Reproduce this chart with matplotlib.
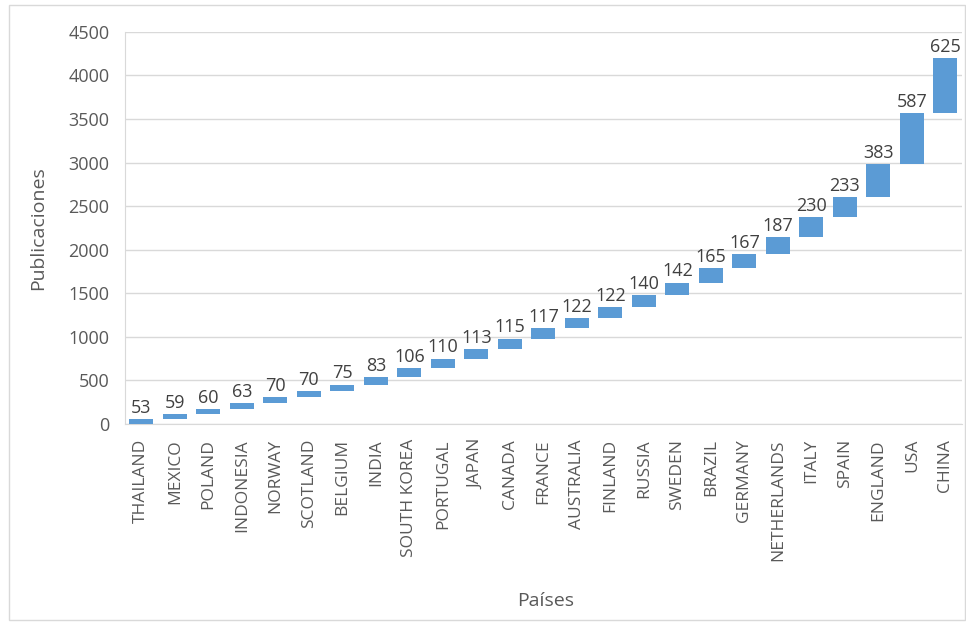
import matplotlib
matplotlib.use("Agg")
import matplotlib.pyplot as plt
import numpy as np

countries = ["THAILAND", "MEXICO", "POLAND", "INDONESIA", "NORWAY", "SCOTLAND",
             "BELGIUM", "INDIA", "SOUTH KOREA", "PORTUGAL", "JAPAN", "CANADA",
             "FRANCE", "AUSTRALIA", "FINLAND", "RUSSIA", "SWEDEN", "BRAZIL",
             "GERMANY", "NETHERLANDS", "ITALY", "SPAIN", "ENGLAND", "USA", "CHINA"]
publications = [53, 59, 60, 63, 70, 70, 75, 83, 106, 110, 113, 115, 117, 122,
                122, 140, 142, 165, 167, 187, 230, 233, 383, 587, 625]
y_ticks = [0, 500, 1000, 1500, 2000, 2500, 3000, 3500, 4000, 4500]

plt.rcParams['font.family'] = ['Open Sans', 'DejaVu Sans']

bar_color = "#5B9BD5"
text_color = "#595959"

fig = plt.figure(figsize=(9.66, 6.25), dpi=100)
ax = fig.add_axes([0.129, 0.322, 0.867, 0.627])

# waterfall: each bar starts where the cumulative total of the previous ones ends
vals = np.array(publications)
bottoms = np.concatenate([[0], np.cumsum(vals)[:-1]])
x = np.arange(len(countries))
ax.bar(x, vals, bottom=bottoms, width=0.72, color=bar_color, zorder=3)

for xi, b, v in zip(x, bottoms, vals):
    ax.text(xi, b + v + 25, str(v), ha="center", va="bottom",
            fontsize=13, color="#404040", zorder=4)

ax.set_xlim(-0.5, len(countries) - 0.5)
ax.set_ylim(0, 4500)
ax.set_yticks(y_ticks)
ax.set_xticks(x)
ax.set_xticklabels(countries, rotation=90, fontsize=12.5, color=text_color)
ax.tick_params(axis="y", labelsize=13, colors=text_color, length=0, pad=11)
ax.tick_params(axis="x", length=0, pad=11)

ax.grid(axis="y", color="#D9D9D9", linewidth=1, zorder=0)
for side in ["top", "right"]:
    ax.spines[side].set_visible(False)
ax.spines["left"].set_color("#D9D9D9")
ax.spines["bottom"].set_color("#D9D9D9")

ax.set_ylabel("Publicaciones", fontsize=14, color=text_color)
ax.yaxis.set_label_coords(-0.093, 0.5)
fig.text(0.565, 0.03, "Países", ha="center", fontsize=14, color=text_color)

# outer chart border
border = plt.Rectangle((0.009, 0.008), 0.99, 0.984, transform=fig.transFigure,
                       fill=False, edgecolor="#D9D9D9", linewidth=1)
fig.add_artist(border)

fig.savefig("out.png", dpi=100)
